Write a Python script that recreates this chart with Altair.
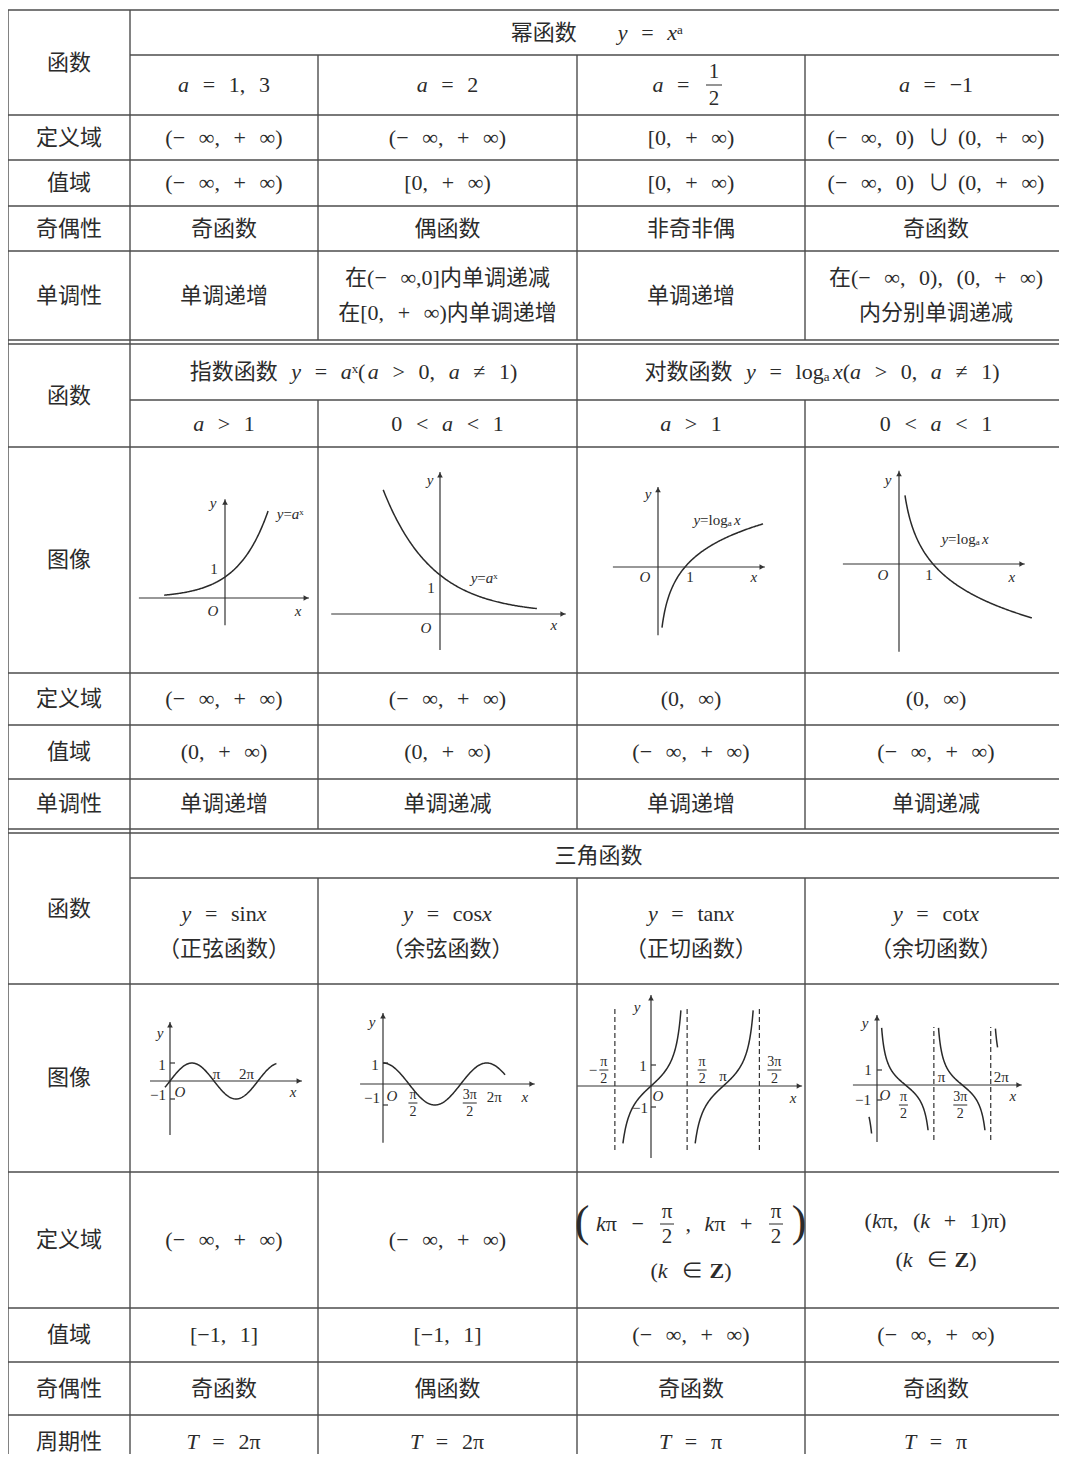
import altair as alt
import numpy as np
import pandas as pd

W, H = 1051, 1446
DOM_X = [8, 8 + W]
DOM_Y = [8, 8 + H]

INK = "#2b2b2b"
RULE = "#4d4d4d"
FONT = "'Liberation Serif', 'Noto Sans CJK SC', serif"
PI = np.pi

# ---------------- table structure ----------------
COL_X = [8, 130, 318, 577, 805, 1067]
FULL_ROWS = [10, 115, 160, 206, 251, 340, 344, 447, 673, 725, 779, 829, 833,
             984, 1172, 1308, 1362, 1415]
SUB_ROWS = [55, 400, 878]
BOTTOM = 1454
V_SPANS = {
    8: [(10, BOTTOM)],
    130: [(10, BOTTOM)],
    318: [(55, 340), (400, 829), (878, BOTTOM)],
    577: [(55, 340), (344, 829), (878, BOTTOM)],
    805: [(55, 340), (400, 829), (878, BOTTOM)],
}

ROW_LABELS = ["函数", "定义域", "值域", "奇偶性", "单调性",
              "函数", "图像", "定义域", "值域", "单调性",
              "函数", "图像", "定义域", "值域", "奇偶性", "周期性"]
ROW_SPANS = [(10, 115), (115, 160), (160, 206), (206, 251), (251, 340),
             (344, 447), (447, 673), (673, 725), (725, 779), (779, 829),
             (833, 984), (984, 1172), (1172, 1308), (1308, 1362), (1362, 1415), (1415, 1468)]

HEADERS = [
    ((10, 55), (130, 1067), "幂函数   y = xᵃ"),
    ((344, 400), (130, 577), "指数函数 y = aˣ(a > 0, a ≠ 1)"),
    ((344, 400), (577, 1067), "对数函数 y = logₐx(a > 0, a ≠ 1)"),
    ((833, 878), (130, 1067), "三角函数"),
]

CELLS = [
    ((55, 115), ["a = 1, 3", "a = 2", None, "a = −1"]),
    ((115, 160), ["(− ∞, + ∞)", "(− ∞, + ∞)", "[0, + ∞)", "(− ∞, 0) ∪ (0, + ∞)"]),
    ((160, 206), ["(− ∞, + ∞)", "[0, + ∞)", "[0, + ∞)", "(− ∞, 0) ∪ (0, + ∞)"]),
    ((206, 251), ["奇函数", "偶函数", "非奇非偶", "奇函数"]),
    ((251, 340), ["单调递增", "在(− ∞,0]内单调递减\n在[0, + ∞)内单调递增", "单调递增",
                  "在(− ∞, 0), (0, + ∞)\n内分别单调递减"]),
    ((400, 447), ["a > 1", "0 < a < 1", "a > 1", "0 < a < 1"]),
    ((673, 725), ["(− ∞, + ∞)", "(− ∞, + ∞)", "(0, ∞)", "(0, ∞)"]),
    ((725, 779), ["(0, + ∞)", "(0, + ∞)", "(− ∞, + ∞)", "(− ∞, + ∞)"]),
    ((779, 829), ["单调递增", "单调递减", "单调递增", "单调递减"]),
    ((878, 984), ["y = sinx\n（正弦函数）", "y = cosx\n（余弦函数）",
                  "y = tanx\n（正切函数）", "y = cotx\n（余切函数）"]),
    ((1172, 1308), ["(− ∞, + ∞)", "(− ∞, + ∞)", None, "(kπ, (k + 1)π)\n(k ∈ Z)"]),
    ((1308, 1362), ["[−1, 1]", "[−1, 1]", "(− ∞, + ∞)", "(− ∞, + ∞)"]),
    ((1362, 1415), ["奇函数", "偶函数", "奇函数", "奇函数"]),
    ((1415, 1468), ["T = 2π", "T = 2π", "T = π", "T = π"]),
]
LINE_GAP = {(1172, 1308): 39}

# ---------------- mini graphs ----------------
GRAPHS = {
    "exp1": dict(o=(225, 598), s=(21, 21), xr=(-4.1, 4.0), yr=(-1.3, 4.7)),
    "exp2": dict(o=(440, 614), s=(34, 39), xr=(-3.2, 3.7), yr=(-0.92, 3.64)),
    "log1": dict(o=(658, 567), s=(27, 22), xr=(-1.67, 3.96), yr=(-3.1, 3.64)),
    "log2": dict(o=(899, 564), s=(34, 27.4), xr=(-1.65, 3.7), yr=(-3.2, 3.4)),
    "sin": dict(o=(170, 1081), s=(14, 18), xr=(-1.43, 9.43), yr=(-3.0, 3.28)),
    "cos": dict(o=(383, 1084), s=(16.5, 21), xr=(-1.39, 9.2), yr=(-2.8, 3.38)),
    "tan": dict(o=(651, 1086), s=(23, 21), xr=(-3.2, 6.57), yr=(-3.43, 4.33)),
    "cot": dict(o=(877, 1085), s=(18.1, 15), xr=(-1.33, 8.0), yr=(-3.8, 4.67)),
}
FUNCS = {
    "2^x": lambda x: 2.0 ** x,
    "(1/2)^x": lambda x: 0.5 ** x,
    "log2": np.log2,
    "log1/2": lambda x: -np.log2(x),
    "sin": np.sin,
    "cos": np.cos,
    "tan": np.tan,
    "cot": lambda x: 1.0 / np.tan(x),
}
# (graph, function, x from, x to)
CURVES = [
    ("exp1", "2^x", -2.9, 2.05),
    ("exp2", "(1/2)^x", -1.67, 2.85),
    ("log1", "log2", 0.148, 3.89),
    ("log2", "log1/2", 0.176, 3.91),
    ("sin", "sin", -0.36, 7.6),
    ("cos", "cos", 0.0, 7.4),
    ("tan", "tan", -1.22, 1.30),
    ("tan", "tan", PI - 1.22, PI + 1.30),
    ("cot", "cot", -0.44, -0.30),
    ("cot", "cot", 0.257, PI - 0.32),
    ("cot", "cot", PI + 0.257, 2 * PI - 0.32),
    ("cot", "cot", 2 * PI + 0.26, 2 * PI + 0.38),
]
# dashed asymptotes: (graph, x, y from, y to)
ASYMPTOTES = [
    ("tan", -PI / 2, -3.05, 3.76), ("tan", PI / 2, -3.05, 3.76), ("tan", 3 * PI / 2, -3.05, 3.76),
    ("cot", PI, -3.67, 3.87), ("cot", 2 * PI, -3.67, 3.87),
]
TICK_GRAPHS = ["sin", "cos", "tan", "cot"]
# graph labels: (graph, text, anchor x, anchor y, dx, dy)
GLABELS = [
    ("exp1", "y", 0, "top", -12, 4), ("exp1", "O", 0, 0, -12, 13),
    ("exp1", "x", "end", 0, -11, 13), ("exp1", "1", 0, 1, -11, -8),
    ("exp1", "y=aˣ", 2.05, 4.14, 23, 3),
    ("exp2", "y", 0, "top", -10, 8), ("exp2", "O", 0, 0, -14, 14),
    ("exp2", "x", "end", 0, -12, 11), ("exp2", "1", 0, 1, -9, 13),
    ("exp2", "y=aˣ", 1.0, 0.5, 11, -17),
    ("log1", "y", 0, "top", -10, 7), ("log1", "O", 0, 0, -13, 10),
    ("log1", "1", 1, 0, 5, 10), ("log1", "x", "end", 0, -11, 10),
    ("log1", "y=logₐx", 2, 1, 5, -25),
    ("log2", "y", 0, "top", -11, 9), ("log2", "O", 0, 0, -16, 11),
    ("log2", "1", 1, 0, -4, 11), ("log2", "x", "end", 0, -13, 13),
    ("log2", "y=logₐx", 2, 0, -2, -25),
    ("sin", "y", 0, "top", -10, 11), ("sin", "1", 0, 1, -8, 2),
    ("sin", "−1", 0, -1, -12, -4), ("sin", "O", 0, 0, 10, 11),
    ("sin", "π", PI, 0, 3, -7), ("sin", "2π", 2 * PI, 0, -11, -7),
    ("sin", "x", "end", 0, -9, 11),
    ("cos", "y", 0, "top", -11, 9), ("cos", "1", 0, 1, -8, 2),
    ("cos", "−1", 0, -1, -11, -7), ("cos", "O", 0, 0, 9, 12),
    ("cos", "2π", 2 * PI, 0, 8, 13), ("cos", "x", "end", 0, -10, 13),
    ("tan", "y", 0, "top", -14, 12), ("tan", "1", 0, 1, -8, 1),
    ("tan", "−1", 0, -1, -11, 1), ("tan", "O", 0, 0, 7, 10),
    ("tan", "π", PI, 0, 0, -10), ("tan", "x", "end", 0, -9, 12),
    ("tan", "−", -PI / 2, 0, -22, -16),
    ("cot", "y", 0, "top", -12, 8), ("cot", "1", 0, 1, -9, 0),
    ("cot", "−1", 0, -1, -14, 0), ("cot", "O", 0, 0, 8, 10),
    ("cot", "π", PI, 0, 8, -8), ("cot", "2π", 2 * PI, 0, 11, -8),
    ("cot", "x", "end", 0, -9, 11),
]
# stacked fractions in graphs: (graph, numerator, denominator, anchor x, dx, dy)
GFRACS = [
    ("cos", "π", "2", PI / 2, 4, 19), ("cos", "3π", "2", 3 * PI / 2, 9, 19),
    ("tan", "π", "2", -PI / 2, -11, -16), ("tan", "π", "2", PI / 2, 15, -16),
    ("tan", "3π", "2", 3 * PI / 2, 15, -16),
    ("cot", "π", "2", PI / 2, -2, 20), ("cot", "3π", "2", 3 * PI / 2, -2, 20),
]

# ---------------- text helpers ----------------
SPACE_W = 0.62          # width of one typeset gap, in em
ITALIC_LETTERS = set("axykTO")
BOLD_LETTERS = set("Z")
FUNC_WORDS = ["sin", "cos", "tan", "cot", "log"]
UPW = {"=": .564, "+": .564, "−": .564,
       "<": .564, ">": .564, "(": .333, ")": .333, "[": .333, "]": .333, ",": .25,
       "π": .55, "∞": .713, "≠": .549, "∪": .75, "∈": .67, "ᵃ": .42, "ˣ": .40, "ₐ": .42,
       "Z": .667, "s": .389, "i": .278, "n": .5, "c": .444, "o": .5, "t": .278, "l": .278,
       "g": .5, "a": .444, "x": .5, "y": .5, "k": .5, "T": .611, "O": .722}
ITW = {"a": .5, "x": .444, "y": .444, "k": .444, "T": .556, "O": .722}


def is_cjk(ch):
    o = ord(ch)
    return 0x3000 <= o <= 0x9FFF or 0xFF00 <= o <= 0xFFEF


def char_w(ch, it):
    if ch == " ":
        return SPACE_W
    if is_cjk(ch):
        return 1.0
    if ch.isdigit():
        return .5
    return (ITW if it else UPW).get(ch, .5)


def runs_of(s):
    """split into runs: (text, kind) kind 'i' italic, 'n' upright, 'b' bold, None space"""
    out = []

    def push(t, kind):
        if out and out[-1][1] == kind:
            out[-1][0] += t
        else:
            out.append([t, kind])

    i = 0
    while i < len(s):
        ch = s[i]
        if ch == " ":
            push(ch, None)
            i += 1
        elif ch.isascii() and ch.isalpha():
            j = i
            while j < len(s) and s[j].isascii() and s[j].isalpha():
                j += 1
            word = s[i:j]
            for fw in FUNC_WORDS:
                if word.startswith(fw):
                    push(fw, "n")
                    word = word[len(fw):]
                    break
            for c in word:
                push(c, "i" if c in ITALIC_LETTERS else ("b" if c in BOLD_LETTERS else "n"))
            i = j
        else:
            push(ch, "n")
            i += 1
    return out


texts, rules, bars, curves, dashes, axes, arrows = [], [], [], [], [], [], []


def add_text(x, y, t, size=22, italic=False, align="center", bold=False):
    texts.append(dict(x=x, y=y, text=t, size=size,
                      style="italic" if italic else "normal", align=align,
                      weight="bold" if bold else "normal"))


def add_math(cx, cy, s, size=22):
    runs = runs_of(s)
    widths = [sum(char_w(c, kind == "i") for c in t) * size for t, kind in runs]
    x = cx - sum(widths) / 2
    for (t, kind), w in zip(runs, widths):
        if kind is not None:
            add_text(x, cy, t, size, kind == "i", "left", kind == "b")
        x += w


def add_frac(x, y, num, den, size, gap, barw):
    add_text(x, y - gap, num, size)
    add_text(x, y + gap + 1, den, size)
    bars.append(dict(x=x - barw / 2, x2=x + barw / 2, y=y, y2=y))


# table rules
for yv in FULL_ROWS:
    rules.append(dict(x=COL_X[0], x2=COL_X[-1], y=yv, y2=yv))
for yv in SUB_ROWS:
    rules.append(dict(x=COL_X[1], x2=COL_X[-1], y=yv, y2=yv))
for xv, spans in V_SPANS.items():
    for a, b in spans:
        rules.append(dict(x=xv, x2=xv, y=a, y2=b))

centers = [(COL_X[i] + COL_X[i + 1]) / 2 for i in range(5)]

for lab, (a, b) in zip(ROW_LABELS, ROW_SPANS):
    add_text(centers[0], (a + b) / 2, lab, 22)
for (a, b), (l, r), t in HEADERS:
    add_math((l + r) / 2, (a + b) / 2, t, 22)
for span, row in CELLS:
    a, b = span
    gap = LINE_GAP.get(span, 35)
    for i, t in enumerate(row):
        if t is None:
            continue
        lines = t.split("\n")
        n = len(lines)
        for k, line in enumerate(lines):
            y = (a + b) / 2 + (k - (n - 1) / 2) * gap
            add_math(centers[i + 1], y, line, 22)

# a = 1/2
c3 = centers[3]
add_math(c3 - 20, 85, "a =", 22)
add_frac(c3 + 23, 85, "1", "2", 21, 13, 16)
# tan domain
add_text(c3 - 109, 1223, "(", 44)
add_math(c3 - 71, 1224, "kπ −", 22)
add_frac(c3 - 24, 1224, "π", "2", 21, 12, 14)
add_math(c3 + 28, 1224, ", kπ +", 22)
add_frac(c3 + 85, 1224, "π", "2", 21, 12, 14)
add_text(c3 + 108, 1223, ")", 44)
add_math(c3, 1271, "(k ∈ Z)", 22)

# graphs
cid = 0
for g, fn, a, b in CURVES:
    xs = np.linspace(a, b, 160)
    ys = FUNCS[fn](xs)
    G = GRAPHS[g]
    for i, (mx, my) in enumerate(zip(xs, ys)):
        curves.append(dict(x=G["o"][0] + mx * G["s"][0], y=G["o"][1] - my * G["s"][1], cid=cid, i=i))
    cid += 1


def gp(g, mx, my):
    G = GRAPHS[g]
    return G["o"][0] + mx * G["s"][0], G["o"][1] - my * G["s"][1]


for g, mx, y0, y1 in ASYMPTOTES:
    x0p, y0p = gp(g, mx, y0)
    x1p, y1p = gp(g, mx, y1)
    dashes.append(dict(x=x0p, x2=x1p, y=y0p, y2=y1p))
for g, G in GRAPHS.items():
    (xa, xb), (ya, yb) = G["xr"], G["yr"]
    p0, p1 = gp(g, xa, 0), gp(g, xb, 0)
    axes.append(dict(x=p0[0], x2=p1[0], y=p0[1], y2=p1[1]))
    arrows.append(dict(x=p1[0] - 3, y=p1[1], shape="triangle-right"))
    q0, q1 = gp(g, 0, ya), gp(g, 0, yb)
    axes.append(dict(x=q0[0], x2=q1[0], y=q0[1], y2=q1[1]))
    arrows.append(dict(x=q1[0], y=q1[1] + 3, shape="triangle-up"))
for g in TICK_GRAPHS:
    for v in (1, -1):
        p = gp(g, 0, v)
        axes.append(dict(x=p[0], x2=p[0] + 5, y=p[1], y2=p[1]))
for g, t, ax, ay, dx, dy in GLABELS:
    G = GRAPHS[g]
    mx = G["xr"][1] if ax == "end" else ax
    my = G["yr"][1] if ay == "top" else ay
    px, py = gp(g, mx, my)
    add_math(px + dx, py + dy, t, 15)
for g, num, den, ax, dx, dy in GFRACS:
    px, py = gp(g, ax, 0)
    add_frac(px + dx, py + dy, num, den, 14, 8, 14 if len(num) > 1 else 9)

# ---------------- chart ----------------
XS = alt.Scale(domain=DOM_X, nice=False, zero=False)
YS = alt.Scale(domain=DOM_Y, nice=False, zero=False, reverse=True)


def XE(f="x"):
    return alt.X(f, type="quantitative", scale=XS, axis=None)


def YE(f="y"):
    return alt.Y(f, type="quantitative", scale=YS, axis=None)


def rule_layer(df, width, color, dash=None):
    kw = dict(color=color, strokeWidth=width)
    if dash:
        kw["strokeDash"] = dash
    return alt.Chart(pd.DataFrame(df)).mark_rule(**kw).encode(
        x=XE(), x2="x2:Q", y=YE(), y2="y2:Q")


tdf = pd.DataFrame(texts)

layers = [
    rule_layer(rules, 1.4, RULE),
    rule_layer(axes, 1.2, "#333333"),
    rule_layer(dashes, 1.2, "#333333", [5, 3]),
    rule_layer(bars, 1.0, INK),
    alt.Chart(pd.DataFrame(curves)).mark_line(color="#2a2a2a", strokeWidth=1.5).encode(
        x=XE(), y=YE(), detail="cid:N", order="i:Q"),
    alt.Chart(pd.DataFrame(arrows)).mark_point(filled=True, color="#333333", opacity=1, size=32).encode(
        x=XE(), y=YE(), shape=alt.Shape("shape:N", scale=None)),
]
for (st, al, wt), sub in tdf.groupby(["style", "align", "weight"]):
    layers.append(
        alt.Chart(sub.reset_index(drop=True)).mark_text(
            font=FONT, color=INK, align=al, baseline="middle", fontStyle=st, fontWeight=wt,
        ).encode(x=XE(), y=YE(), text="text:N", size=alt.Size("size:Q", scale=None))
    )

chart = alt.layer(*layers).properties(
    width=W, height=H, padding=0, autosize=alt.AutoSizeParams(type="none"),
    background="white",
).configure_view(stroke=None)

chart.save("out.html", embed_options={"renderer": "svg", "actions": False})
